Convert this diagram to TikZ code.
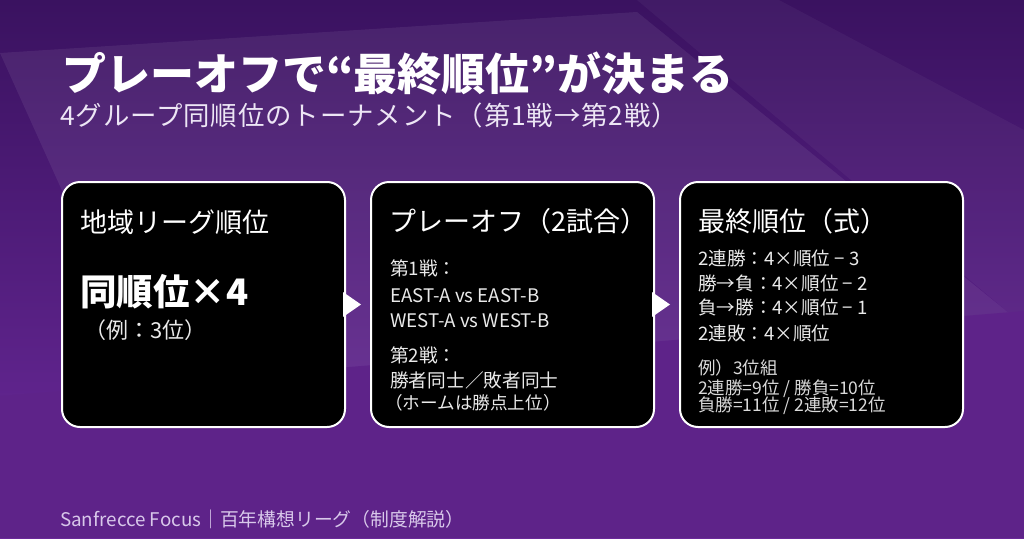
\documentclass[tikz,border=0pt]{standalone}
\usepackage{fontspec}
\setmainfont{Noto Sans CJK JP}
\newfontfamily\subfont[LetterSpace=3.5]{Noto Sans CJK JP}
\usetikzlibrary{calc}
\definecolor{bgtop}{HTML}{3A1260}
\definecolor{bgbot}{HTML}{6C2A9C}
\definecolor{band}{HTML}{5E2389}
\definecolor{foot}{HTML}{D8C8EA}
\definecolor{subc}{HTML}{EDE6F5}
\definecolor{bodyc}{HTML}{EAEAEA}
\definecolor{smallc}{HTML}{DADADA}
\tikzset{
  panel/.style={draw=white, line width=2pt, fill=black, rounded corners=18pt,
    minimum width=283pt, minimum height=245pt, anchor=north west, inner sep=0pt},
  txt/.style={anchor=base west, inner sep=0pt, text=white},
  titlef/.style={txt, font=\fontsize{44}{52}\selectfont\bfseries},
  subf/.style={txt, text=subc, font=\subfont\fontsize{26.4}{31}\selectfont},
  headf/.style={txt, font=\fontsize{27}{32}\selectfont},
  bigf/.style={txt, font=\fontsize{36.5}{42}\selectfont\bfseries},
  bodyf/.style={txt, text=bodyc, font=\fontsize{18.7}{22}\selectfont},
  formf/.style={txt, text=bodyc, font=\fontsize{18.6}{22}\selectfont},
  smallf/.style={txt, text=smallc, font=\fontsize{17.5}{20}\selectfont},
  footf/.style={txt, text=foot, font=\fontsize{18.8}{22}\selectfont},
  tipfill/.style={fill=white},
}
\begin{document}
\begin{tikzpicture}[x=1pt,y=-1pt]
\useasboundingbox (0,0) rectangle (1024,538);
% background
\shade[top color=bgtop, bottom color=bgbot] (0,0) rectangle (1024,538);
\fill[white, fill opacity=0.04] (637,0) -- (779,0) -- (1024,130) -- (1024,318) -- (1015,318) -- cycle;
\fill[white, fill opacity=0.07] (0,53) -- (637,12) -- (1015,318) -- (170,430) -- cycle;
\fill[band] (0,396) -- (1024,311) -- (1024,538) -- (0,538) -- cycle;
% titles
\node[titlef] (title) at (62,90) {プレーオフで“最終順位”が決まる};
\node[subf] (sub) at (60,125) {4グループ同順位のトーナメント（第1戦→第2戦）};
% panels
\node[panel] (b1) at (61,181) {};
\node[panel] (b2) at (370,181) {};
\node[panel] (b3) at (679,181) {};
% arrows
\fill[tipfill] ($(b1.east)+(-3,-12.5)$) -- ($(b1.east)+(-3,12.5)$) -- ($(b2.west)+(-9,0)$) -- cycle;
\fill[tipfill] ($(b2.east)+(-3,-12.5)$) -- ($(b2.east)+(-3,12.5)$) -- ($(b3.west)+(-9,0)$) -- cycle;
% panel 1
\node[headf] (h1) at (80,232) {地域リーグ順位};
\node[bigf] (big1) at (80,305) {同順位×4};
\node[bodyf, font=\fontsize{22}{26}\selectfont] (ex1) at (84,338) {（例：3位）};
% panel 2
\node[headf] (h2) at (389,231) {プレーオフ（2試合）};
\node[bodyf] (l21) at (390,275) {第1戦：};
\node[bodyf] (l22) at (390,302) {EAST-A vs EAST-B};
\node[bodyf] (l23) at (390,327) {WEST-A vs WEST-B};
\node[bodyf] (l24) at (390,362) {第2戦：};
\node[bodyf] (l25) at (390,387) {勝者同士／敗者同士};
\node[bodyf, font=\fontsize{17.6}{20}\selectfont] (l26) at (385,409) {（ホームは勝点上位）};
% panel 3
\node[headf] (h3) at (698,231) {最終順位（式）};
\node[formf] (f1) at (698,265) {2連勝：4×順位 − 3};
\node[formf] (f2) at (698,290) {勝→負：4×順位 − 2};
\node[formf] (f3) at (698,314) {負→勝：4×順位 − 1};
\node[formf] (f4) at (698,340) {2連敗：4×順位};
\node[smallf] (e0) at (698,374.5) {例）3位組};
\node[smallf] (e1) at (698,394.5) {2連勝=9位 / 勝負=10位};
\node[smallf] (e2) at (698,411.5) {負勝=11位 / 2連敗=12位};
% footer
\node[footf] (foot) at (60,526) {Sanfrecce Focus｜百年構想リーグ（制度解説）};
\end{tikzpicture}
\end{document}
